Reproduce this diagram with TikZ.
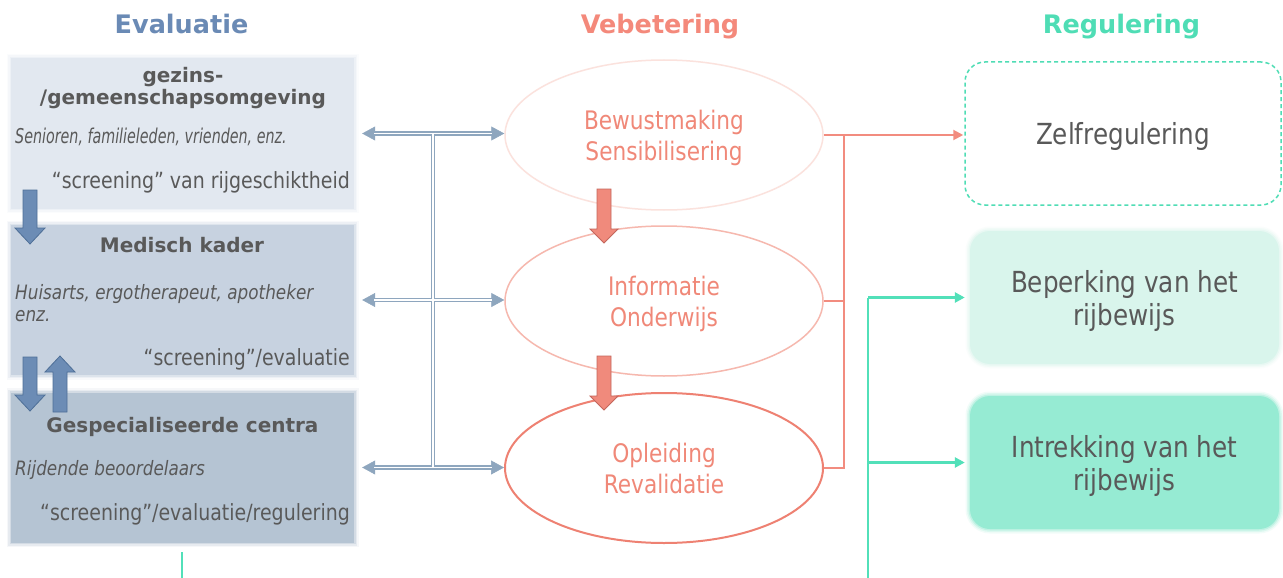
\documentclass[tikz,border=0pt]{standalone}
\usepackage{fontspec}
\setmainfont{DejaVu Sans}[FakeStretch=0.85]
\newfontfamily\headfont{DejaVu Sans}
\newfontfamily\narrowfont{DejaVu Sans}[FakeStretch=0.70]
\usetikzlibrary{arrows.meta,shapes.geometric}
\definecolor{evalc}{HTML}{6A8AB5}
\definecolor{vebc}{HTML}{F4897B}
\definecolor{regc}{HTML}{4FDDB5}
\definecolor{txtc}{HTML}{595959}
\definecolor{boxA}{HTML}{E2E8F0}
\definecolor{boxB}{HTML}{C7D2E0}
\definecolor{boxC}{HTML}{B5C4D3}
\definecolor{barrow}{HTML}{6C8CB5}
\definecolor{barrowd}{HTML}{4E6F97}
\definecolor{sarrow}{HTML}{F08A7C}
\definecolor{sarrowd}{HTML}{C4665C}
\definecolor{dblc}{HTML}{8EA6BE}
\definecolor{elA}{HTML}{FBE2DD}
\definecolor{elB}{HTML}{F6B8AE}
\definecolor{elC}{HTML}{EE8172}
\definecolor{eltext}{HTML}{F08878}
\definecolor{redline}{HTML}{F28C7F}
\definecolor{greenline}{HTML}{52E0B9}
\definecolor{rbB}{HTML}{D9F5EC}
\definecolor{rbC}{HTML}{96EBD3}
\newcommand{\BlockArrow}[7]{%
  \draw[#1] ({#2-#5},#3) -- ({#2+#5},#3) -- ({#2+#5},{#4-(#7)}) -- ({#2+#6},{#4-(#7)})
    -- (#2,#4) -- ({#2-#6},{#4-(#7)}) -- ({#2-#5},{#4-(#7)}) -- cycle;}
\begin{document}
\begin{tikzpicture}[x=1pt,y=-1pt,
  softfill/.style={fill=#1,
    preaction={draw=#1, line width=9pt, draw opacity=0.12},
    preaction={draw=#1, line width=6pt, draw opacity=0.22},
    preaction={draw=#1, line width=3pt, draw opacity=0.4}},
  leftbox/.style={rectangle, inner sep=0pt, minimum width=343pt, minimum height=150pt},
  rightbox/.style={rectangle, rounded corners=20pt, inner sep=0pt, minimum width=309pt,
    minimum height=133pt, text=txtc, align=center, text depth=0pt,
    font=\fontsize{29}{33}\selectfont},
  hdr/.style={inner sep=0pt, font=\headfont\bfseries\fontsize{25.5}{30}\selectfont},
  txt/.style={inner sep=0pt, text=txtc},
  ltitle/.style={txt, font=\headfont\bfseries\fontsize{20}{22}\selectfont},
  lital/.style={txt, font=\itshape\fontsize{19.8}{21}\selectfont},
  lbody/.style={txt, font=\fontsize{22.3}{26}\selectfont},
  ell/.style={ellipse, inner sep=0pt, minimum width=318pt, minimum height=150pt,
    text=eltext, align=center, text depth=0pt, font=\fontsize{25.5}{31}\selectfont},
  bluearr/.style={fill=barrow, draw=barrowd, line width=0.8pt},
  salarr/.style={fill=sarrow, draw=sarrowd, line width=0.8pt},
  dbltip/.style={draw=dblc, fill=dblc, line width=0.5pt,
    {Triangle[length=13pt,width=14pt]}-{Triangle[length=13pt,width=14pt]}},
  dblout/.style={draw=dblc, line width=4.6pt, shorten <=12pt, shorten >=12pt},
  dblin/.style={draw=white, line width=1.8pt, shorten <=12pt, shorten >=12pt},
  dblvout/.style={draw=dblc, line width=4.6pt},
  dblvin/.style={draw=white, line width=1.8pt},
  redl/.style={draw=redline, line width=2pt},
  redarr/.style={redl, -{Triangle[length=10pt,width=10pt]}},
  greenl/.style={draw=greenline, line width=2.5pt},
  greenarr/.style={greenl, -{Triangle[length=10pt,width=10pt]}},
]
\useasboundingbox (0,0) rectangle (1283,578);
\fill[white] (0,0) rectangle (1283,578);

% headers
\node[hdr, text=evalc, anchor=base] (hEval) at (181.5,34) {Evaluatie};
\node[hdr, text=vebc, anchor=base] (hVeb) at (660,34) {Vebetering};
\node[hdr, text=regc, anchor=base] (hReg) at (1121.5,34) {Regulering};

% left boxes
\node[leftbox, softfill=boxA] (lb1) at (182.5,133.5) {};
\node[leftbox, softfill=boxB] (lb2) at (182.5,300) {};
\node[leftbox, softfill=boxC] (lb3) at (182.5,467.5) {};

% left box texts
\node[ltitle, anchor=base] (t1a) at (183,82) {gezins-};
\node[ltitle, anchor=base] (t1b) at (183,104) {/gemeenschapsomgeving};
\node[txt, anchor=base west, font=\narrowfont\itshape\fontsize{20.4}{21}\selectfont] (t1c) at (15,143) {Senioren, familieleden, vrienden, enz.};
\node[lbody, anchor=base east] (t1d) at (350,188) {“screening” van rijgeschiktheid};

\node[ltitle, anchor=base] (t2a) at (182,252) {Medisch kader};
\node[lital, anchor=base west] (t2b) at (15,299) {Huisarts, ergotherapeut, apotheker};
\node[lital, anchor=base west] (t2c) at (15,321) {enz.};
\node[lbody, anchor=base east] (t2d) at (350,365) {“screening”/evaluatie};

\node[ltitle, anchor=base] (t3a) at (182.5,432) {Gespecialiseerde centra};
\node[lital, anchor=base west] (t3b) at (15,475) {Rijdende beoordelaars};
\node[lbody, anchor=base east] (t3c) at (350,520) {“screening”/evaluatie/regulering};

% blue block arrows
\BlockArrow{bluearr}{30}{190}{244}{7}{15}{16}
\BlockArrow{bluearr}{30}{357}{411}{7}{15}{16}
\BlockArrow{bluearr}{60}{412}{356}{7}{15}{-16}

% ellipses
\node[ell, draw=elA, line width=1.5pt] (el1) at (664,135) {Bewustmaking\\Sensibilisering};
\node[ell, draw=elB, line width=1.5pt] (el2) at (664,301) {Informatie\\Onderwijs};
\node[ell, draw=elC, line width=2pt] (el3) at (664,468) {Opleiding\\Revalidatie};

% salmon block arrows
\BlockArrow{salarr}{604}{189}{243}{7}{14}{14}
\BlockArrow{salarr}{604}{356}{410}{7}{14}{14}

% double arrows
\coordinate (a1) at ([xshift=8pt]lb1.east);
\coordinate (a2) at ([xshift=8pt]lb2.east);
\coordinate (a3) at ([xshift=8pt]lb3.east);
\coordinate (b1) at (lb1.east -| el1.west);
\coordinate (b2) at (lb2.east -| el2.west);
\coordinate (b3) at (lb3.east -| el3.west);
\coordinate (busT) at (433,133.5);
\coordinate (busB) at (433,467.5);
\foreach \i in {1,2,3} {\draw[dbltip] (a\i) -- (b\i);}
\foreach \i in {1,2,3} {\draw[dblout] (a\i) -- (b\i);}
\draw[dblvout] (busT) -- (busB);
\foreach \i in {1,2,3} {\draw[dblin] (a\i) -- (b\i);}
\draw[dblvin] (busT) -- (busB);

% right boxes
\node[rightbox, draw=regc, line width=1.5pt, dash pattern=on 4pt off 3pt,
  minimum width=316pt, minimum height=143pt] (rb1) at (1123,133.5) {Zelfregulering};
\node[rightbox, softfill=rbB] (rb2) at (1124.5,297.5) {Beperking van het\\rijbewijs};
\node[rightbox, softfill=rbC] (rb3) at (1124.5,462.5) {Intrekking van het\\rijbewijs};

% red connectors
\coordinate (r1) at (844,0 |- el1.east);
\coordinate (r2) at (844,0 |- el2.east);
\coordinate (r3) at (844,0 |- el3.east);
\draw[redl] (el1.east) -- (r1);
\draw[redl] (el2.east) -- (r2);
\draw[redl] (el3.east) -- (r3) -- (r1);
\draw[redarr] (r1) -- ([xshift=-1pt]r1 -| rb1.west);

% green connectors
\coordinate (g2) at (868,0 |- rb2.west);
\coordinate (g3) at (868,0 |- rb3.west);
\coordinate (gbot) at (868,578);
\draw[greenl] (g2) -- (gbot);
\draw[greenarr] (g2) -- ([xshift=-5pt]rb2.west);
\draw[greenarr] (g3) -- ([xshift=-5pt]rb3.west);
\coordinate (gs1) at (182,552);
\coordinate (gs2) at (182,578);
\draw[greenl] (gs1) -- (gs2);
\end{tikzpicture}
\end{document}
